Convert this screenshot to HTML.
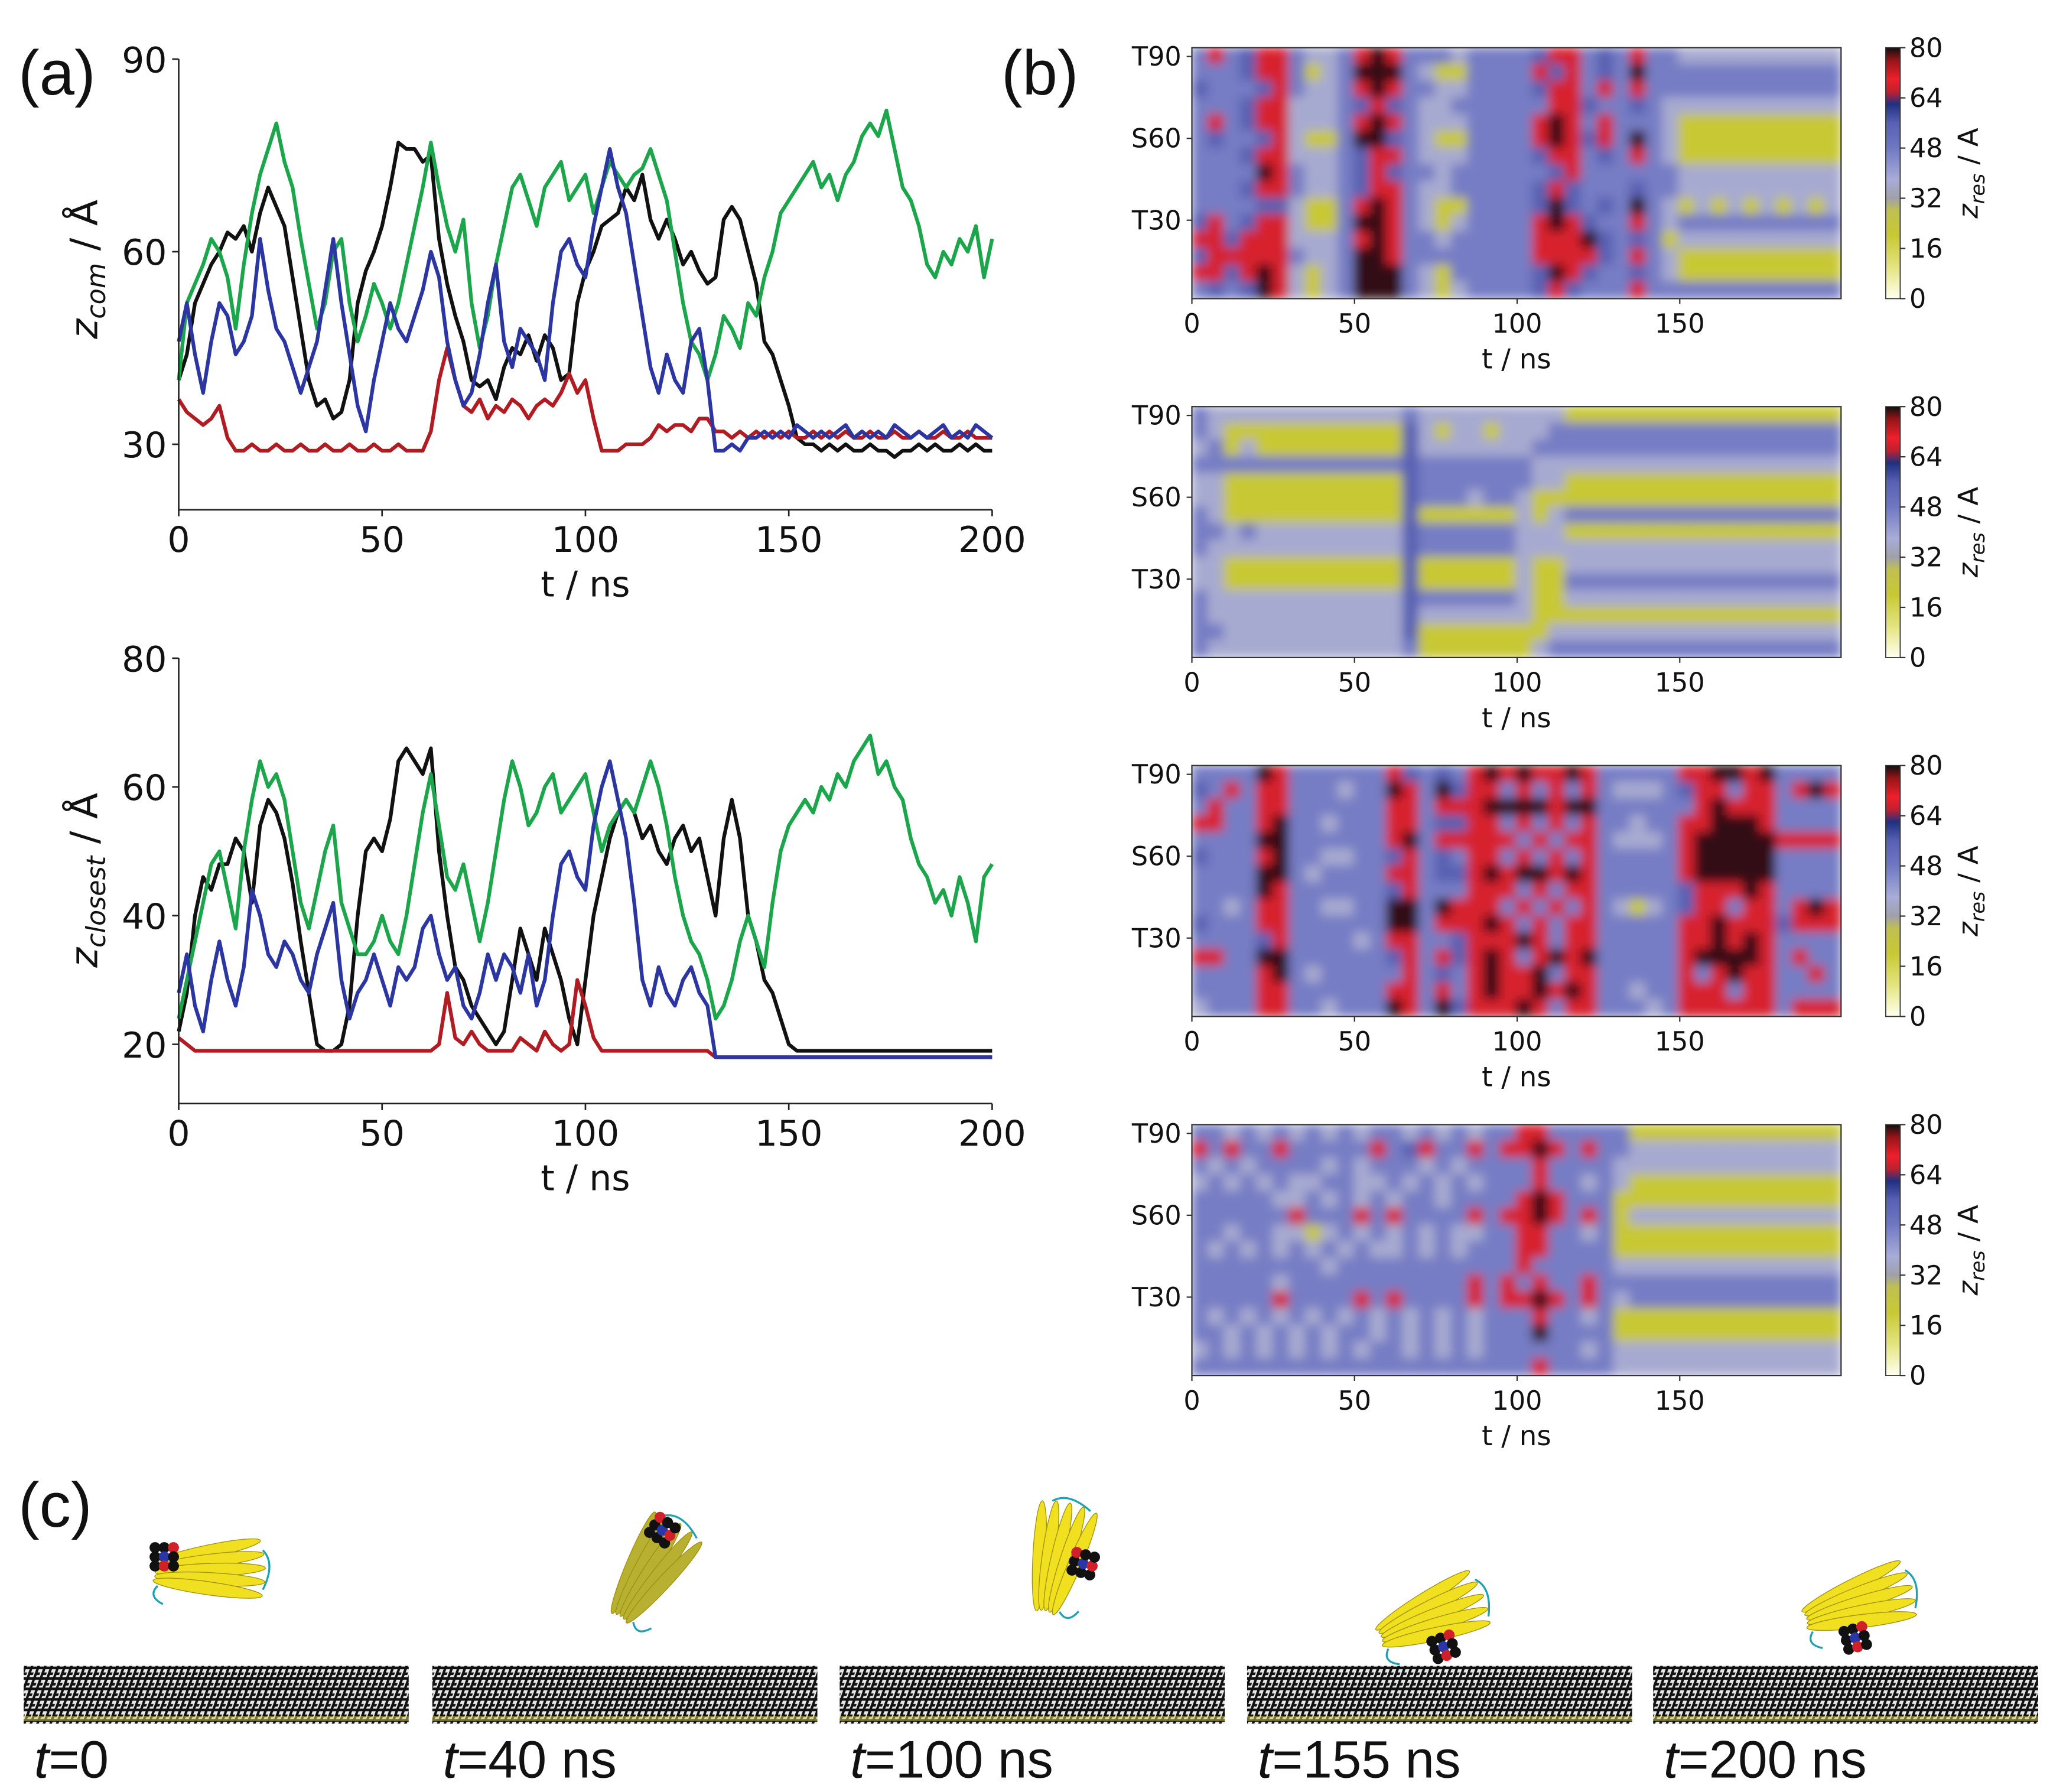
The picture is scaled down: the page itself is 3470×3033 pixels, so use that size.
<!DOCTYPE html>
<html><head><meta charset="utf-8"><title>Protein adsorption trajectories</title>
<style>
html,body{margin:0;padding:0;background:#fff;}
svg{display:block;}
.tk{font-family:"DejaVu Sans","Liberation Sans",sans-serif;fill:#111;}
.pl{font-family:"Liberation Sans","DejaVu Sans",sans-serif;fill:#111;}
</style></head>
<body>
<svg id="fig" xmlns="http://www.w3.org/2000/svg" width="3470" height="3033" viewBox="0 0 1560 1364" preserveAspectRatio="none">
<defs>
<filter id="blur" filterUnits="userSpaceOnUse" x="880" y="0" width="560" height="1100"><feGaussianBlur stdDeviation="4"/></filter>
<pattern id="slabpat" width="5" height="8" patternUnits="userSpaceOnUse" patternTransform="skewX(-20)">
<rect width="5" height="8" fill="#e8e8e8"/>
<path d="M1 0 L1 8 M0 2 L4 2 M2 5.5 L5 5.5" stroke="#111" stroke-width="2"/>
</pattern>
</defs>
<g id="root"></g>
</svg>
<script>
// ---------------- Data: panel (a) top, z_com (Å), 2 ns steps ----------------
const tStep = 2;
const comBlack = [40,44,52,55,58,60,63,62,64,60,66,70,67,64,56,48,40,36,37,34,35,40,52,57,60,64,70,77,76,76,74,75,62,55,50,46,40,39,40,37,42,45,44,47,43,47,45,40,41,52,57,60,64,65,66,70,68,72,65,62,65,62,58,60,57,55,56,65,67,65,60,55,46,44,40,36,31,30,30,29,30,29,30,29,29,30,29,29,28,29,29,30,29,30,29,29,30,29,30,29,29];
const comGreen = [40,52,55,58,62,60,56,48,58,66,72,76,80,74,70,62,55,48,52,60,62,52,46,50,55,52,48,52,58,64,70,77,70,64,60,65,52,45,50,58,64,70,72,68,64,70,72,74,68,70,72,66,70,74,72,70,72,73,76,72,68,60,52,46,44,40,44,50,48,45,52,50,56,60,66,68,70,72,74,70,72,68,72,74,78,80,78,82,76,70,68,64,58,56,60,58,62,60,64,56,62];
const comBlue = [46,52,44,38,46,52,50,44,46,50,62,54,48,46,42,38,42,46,54,62,52,44,36,32,40,46,52,48,46,50,54,60,56,46,40,36,38,44,52,58,46,42,48,46,44,40,52,60,62,58,56,64,70,76,70,66,58,50,42,38,44,40,38,46,48,40,29,29,30,29,31,31,32,31,32,31,33,32,31,32,31,32,33,31,32,31,32,31,33,32,31,32,31,32,33,31,32,31,33,32,31];
const comRed = [37,35,34,33,34,36,31,29,29,30,29,29,30,29,29,30,29,29,30,29,29,30,29,29,30,29,29,30,29,29,29,32,40,45,40,36,35,37,34,36,35,37,36,34,36,37,36,38,41,38,40,34,29,29,29,30,30,30,31,33,32,33,33,32,34,34,32,32,31,32,31,32,31,32,31,32,31,31,32,31,32,31,32,31,31,32,31,31,32,31,31,32,31,31,32,31,31,32,31,31,31];
// ---------------- Data: panel (a) bottom, z_closest (Å) ----------------
const clsBlack = [22,28,40,46,44,48,48,52,50,42,54,58,56,52,45,36,28,20,19,19,20,26,40,50,52,50,55,64,66,64,62,66,50,40,32,30,26,24,22,20,22,30,38,34,30,38,34,30,24,20,30,40,46,52,56,58,56,52,54,50,48,52,54,50,52,46,40,52,58,52,40,36,30,28,24,20,19,19,19,19,19,19,19,19,19,19,19,19,19,19,19,19,19,19,19,19,19,19,19,19,19];
const clsGreen = [24,30,36,42,48,50,44,38,50,58,64,60,62,58,50,42,38,44,50,54,42,38,34,34,36,40,36,34,40,48,56,62,54,46,44,48,42,36,42,50,58,64,60,54,56,60,62,56,58,60,62,56,50,54,56,58,56,60,64,60,54,46,40,36,34,30,24,26,30,36,40,36,32,42,50,54,56,58,56,60,58,62,60,64,66,68,62,64,60,58,52,48,46,42,44,40,46,42,36,46,48];
const clsBlue = [28,34,26,22,30,36,30,26,32,44,40,34,32,36,34,30,28,34,38,42,30,24,28,30,34,30,26,32,30,32,38,40,34,30,32,26,24,28,34,30,34,32,28,34,26,30,40,48,50,46,44,54,60,64,58,52,42,30,26,32,28,26,30,32,28,26,18,18,18,18,18,18,18,18,18,18,18,18,18,18,18,18,18,18,18,18,18,18,18,18,18,18,18,18,18,18,18,18,18,18,18];
const clsRed = [21,20,19,19,19,19,19,19,19,19,19,19,19,19,19,19,19,19,19,19,19,19,19,19,19,19,19,19,19,19,19,19,20,28,21,20,22,20,19,19,19,19,21,20,19,22,20,19,20,30,26,21,19,19,19,19,19,19,19,19,19,19,19,19,19,19,18,18,18,18,18,18,18,18,18,18,18,18,18,18,18,18,18,18,18,18,18,18,18,18,18,18,18,18,18,18,18,18,18,18,18];
const lineTicksX = [0,50,100,150,200];
const topTicksY = [30,60,90];
const botTicksY = [20,40,60,80];

// ---------------- Data: panel (b) heatmaps (level codes; rows top=res 93 -> bottom=res 0, cols 5 ns) ----------------
const levelValues = [20,37,47,56,68,79];
const heat1 = [
"24 2 3 44 2 11 2 454 2 2 21 2222 344 2 3 2 4 22 1111111111",
"22 2 3 44 2 01 2 555 2 1 00 2222 434 2 3 2 5 22 2222222222",
"32 2 2 34 2 11 2 454 2 2 11 2222 344 2 4 2 4 22 2222222222",
"22 2 3 44 1 11 2 343 2 1 12 2222 244 3 2 2 3 21 1111111111",
"24 2 3 44 1 11 2 454 2 1 11 2222 454 2 4 2 2 21 0000000000",
"23 2 2 34 1 00 2 553 2 1 00 2222 454 3 4 2 5 21 0000000000",
"22 2 3 44 1 11 2 344 2 1 11 2222 344 2 3 2 4 21 0000000000",
"22 2 2 54 2 11 2 343 2 2 12 2222 234 2 2 2 2 22 1111111111",
"22 2 3 44 2 11 2 344 2 1 12 2222 343 2 2 2 3 22 1111111111",
"22 2 2 33 1 00 2 454 2 1 00 2222 353 2 3 2 5 21 0101010101",
"34 2 3 44 1 00 2 554 2 1 01 2222 454 3 2 2 4 21 2222222222",
"44 3 4 44 1 11 2 454 2 2 12 2222 444 5 3 2 3 20 1111111111",
"34 4 4 44 2 11 2 554 2 2 22 2222 444 4 3 2 4 21 0000000000",
"44 3 4 54 1 01 2 555 2 1 02 2222 354 3 2 2 3 21 0000000000",
"23 2 3 54 1 01 2 555 2 1 01 2222 343 2 2 2 4 22 2222222222"];
const heat2 = [
"21 11111111111 2 111111 111 00000000000000000",
"21 00000000000 3 101101 112 22222222222222222",
"12 01000000000 3 111111 122 22222222222222222",
"22 22222222222 3 222222 211 11111111111111111",
"11 00000000000 3 222222 211 00000000000000000",
"11 00000000000 3 222122 100 00000000000000000",
"21 00000000000 3 000000 101 22222222222222222",
"22 12111111111 3 222222 111 00000000000000000",
"21 11111111111 3 222222 111 11111111111111111",
"11 00000000000 3 000000 100 11111111111111111",
"11 00000000000 3 000000 100 22222222222222222",
"21 11111111111 3 222222 100 11111111111111111",
"21 11111111111 3 111111 100 00000000000000000",
"22 11111111111 3 000000 001 11111111111111111",
"21 11111111111 2 000000 012 22222222222222222"];
const heat3 = [
"2222 54 222222 43 2 3 24 5454454 22222 445545 2222",
"3242 44 222122 54 2 5 34 4242424 21112 344244 2454",
"2422 44 222222 44 2 4 44 5555455 22222 245444 2222",
"4422 45 221222 44 2 3 34 4242424 22122 445554 2222",
"2222 55 222222 45 2 4 44 4424244 21112 455555 4444",
"3222 45 221122 34 2 3 24 4242424 22222 455555 2222",
"2222 55 212222 44 2 3 34 5455454 22222 455555 2222",
"2222 54 222222 34 2 2 24 4424244 22222 344454 2222",
"2212 44 221122 55 2 5 44 4242424 21012 344244 2454",
"3222 44 222222 55 2 4 44 5424244 22222 445444 3444",
"2222 34 222212 44 2 2 34 4454244 22222 445454 2222",
"4422 55 222222 34 2 4 34 5424545 22222 455554 2422",
"2222 45 212222 24 2 3 24 5445244 22222 424544 2242",
"2222 44 222222 44 2 4 24 5445454 22122 444244 2222",
"1222 44 221222 54 2 5 34 4454244 22212 444444 2444"];
const heat4 = [
"2212121212122121212 2442 222 2 0000000000000",
"4242242222242342242 4454 242 2 1111111111111",
"2121222212122212122 2242 222 1 1111111111111",
"1212121122112121212 2242 212 1 0000000000000",
"2222211212121221222 2454 222 0 0000000000000",
"2222224222424222242 4454 242 0 1111111111111",
"2212211012121212112 2442 212 0 0000000000000",
"2121212121211212122 2442 222 0 0000000000000",
"2222222212222222222 2422 222 1 1111111111111",
"2222212222222222242 4242 242 2 2222222222222",
"2222242222424222242 4454 242 1 2222222222222",
"2121212121212121212 2242 212 0 0000000000000",
"2212121212212121212 2252 222 0 0000000000000",
"1212121212122121212 2222 212 1 1111111111111",
"2222222222222222222 2242 222 1 1111111111111"];
const heatTicksX = [0,50,100,150];
const resTicks = [30,60,90];
const resLabels = ["T30","S60","T90"];
const cbarTicks = [0,16,32,48,64,80];
const snapLabels = ["0","40 ns","100 ns","155 ns","200 ns"];

// ---------------- rendering ----------------
const NS = "http://www.w3.org/2000/svg";
const root = document.getElementById('root');
function mk(tag, attrs, parent){ const e=document.createElementNS(NS,tag); for(const k in attrs) e.setAttribute(k,attrs[k]); (parent||root).appendChild(e); return e; }
function txt(str, attrs, parent){ const e=mk('text',attrs,parent); e.textContent=str; return e; }

const cstops = [[0,[255,255,240]],[10,[228,228,128]],[20,[200,200,52]],[28,[192,192,80]],[32,[160,160,170]],[38,[168,172,216]],[48,[112,120,194]],[56,[88,96,178]],[62,[32,48,128]],[66,[192,32,48]],[70,[238,32,44]],[76,[150,20,24]],[80,[16,16,16]]];
function cmap(v){
  for(let i=1;i<cstops.length;i++){ if(v<=cstops[i][0]){ const a=cstops[i-1],b=cstops[i]; const f=(v-a[0])/(b[0]-a[0]); const c=a[1].map((x,j)=>Math.round(x+(b[1][j]-x)*f)); return 'rgb('+c.join(',')+')'; } }
  return 'rgb(16,16,16)';
}

function lineChart(cfg){
  const g = mk('g',{});
  
  
  const X = t => cfg.x0 + (t-0)/(200-0)*(cfg.x1-cfg.x0);
  const Y = v => cfg.yb - (v-cfg.vmin)/(cfg.vmax-cfg.vmin)*(cfg.yb-cfg.yt);
  cfg.series.forEach(s=>{
    let d='';
    s.data.forEach((v,i)=>{ d += (i?'L':'M') + X(i*tStep).toFixed(2)+' '+Y(v).toFixed(2)+' '; });
    const p = mk('path',{d:d,fill:'none',stroke:s.color,'stroke-width':2.8,'stroke-linejoin':'round'},g);
    
    
  });
  const ax = mk('path',{d:`M${cfg.x0} ${Y(cfg.vmax)} L${cfg.x0} ${cfg.yb} L${cfg.x1} ${cfg.yb}`,fill:'none',stroke:'#222','stroke-width':1.2},g);
  
  
  lineTicksX.forEach(t=>{
    mk('line',{x1:X(t),x2:X(t),y1:cfg.yb,y2:cfg.yb+5,stroke:'#222','stroke-width':1.2},g);
    const l = txt(String(t),{x:X(t),y:cfg.yb+32,'text-anchor':'middle','font-size':27,class:'tk'},g);
    
    
  });
  cfg.yticks.forEach(v=>{
    mk('line',{x1:cfg.x0-5,x2:cfg.x0,y1:Y(v),y2:Y(v),stroke:'#222','stroke-width':1.2},g);
    const l = txt(String(v),{x:cfg.x0-9,y:Y(v)+10,'text-anchor':'end','font-size':27,class:'tk'},g);
    
    
  });
  const xl = txt('t / ns',{x:(cfg.x0+cfg.x1)/2,y:cfg.yb+66,'text-anchor':'middle','font-size':27,class:'tk'},g);
  
  
  const yl = mk('text',{transform:`translate(${cfg.x0-62},${cfg.ylabY}) rotate(-90)`,'text-anchor':'middle','font-size':29,class:'tk'},g);
  
  
  yl.innerHTML = `<tspan font-style="italic">z</tspan><tspan font-style="italic" font-size="20" dy="6">${cfg.sub}</tspan><tspan dy="-6"> / Å</tspan>`;
}
lineChart({name:'zcom-chart',x0:136,x1:755,yt:45,yb:388,vmin:19.8,vmax:90,yticks:topTicksY,sub:'com',ylabY:205,
  series:[{name:'series-black',color:'#111',data:comBlack},{name:'series-green',color:'#1ca64c',data:comGreen},{name:'series-red',color:'#b01c22',data:comRed},{name:'series-blue',color:'#2b36a2',data:comBlue}]});
lineChart({name:'zclosest-chart',x0:136,x1:755,yt:501,yb:840,vmin:10.8,vmax:80,yticks:botTicksY,sub:'closest',ylabY:670,
  series:[{name:'series-black',color:'#111',data:clsBlack},{name:'series-green',color:'#1ca64c',data:clsGreen},{name:'series-red',color:'#b01c22',data:clsRed},{name:'series-blue',color:'#2b36a2',data:clsBlue}]});

const HX0 = 907, HX1 = 1401, HH = 191;
const tops = [36.3, 309.5, 582.7, 856];
const heats = [heat1,heat2,heat3,heat4];
heats.forEach((grid,pi)=>{
  const top = tops[pi];
  const g = mk('g',{});
  
  
  const cp = mk('clipPath',{id:'hc'+pi},g);
  mk('rect',{x:HX0,y:top,width:HX1-HX0,height:HH},cp);
  const cells = mk('g',{'clip-path':'url(#hc'+pi+')'},g);
  const inner = mk('g',{filter:'url(#blur)'},cells);
  const rows = grid.map(r=>r.replace(/ /g,''));
  const nr = rows.length;
  rows.forEach((row,ri)=>{
    const nc = row.length;
    for(let ci=0;ci<nc;ci++){
      const v = levelValues[+row[ci]];
      const x = HX0 + ci/nc*(HX1-HX0), y = top + ri/nr*HH;
      const r = mk('rect',{x:x-0.5,y:y-0.5,width:(HX1-HX0)/nc+1,height:HH/nr+1,fill:cmap(v)},inner);
      
      
    }
  });
  mk('rect',{x:HX0,y:top,width:HX1-HX0,height:HH,fill:'none',stroke:'#333','stroke-width':1},g);
  const X = t => HX0 + t/200*(HX1-HX0+1);
  heatTicksX.forEach(t=>{
    mk('line',{x1:X(t),x2:X(t),y1:top+HH,y2:top+HH+4,stroke:'#333','stroke-width':1},g);
    const l = txt(String(t),{x:X(t),y:top+HH+26,'text-anchor':'middle','font-size':20,class:'tk'},g);
    
    
  });
  const Yr = r => top + 6.7 + (90-r)*2.077;
  resTicks.forEach((r,i)=>{
    mk('line',{x1:HX0-4,x2:HX0,y1:Yr(r),y2:Yr(r),stroke:'#333','stroke-width':1},g);
    const l = txt(resLabels[i],{x:HX0-8,y:Yr(r)+7,'text-anchor':'end','font-size':20,class:'tk'},g);
    
    
  });
  const xl = txt('t / ns',{x:(HX0+HX1)/2,y:top+HH+53,'text-anchor':'middle','font-size':21,class:'tk'},g);
  
  
  const cbx=1435, cbw=11;
  const lg = mk('linearGradient',{id:'cb'+pi,x1:0,y1:1,x2:0,y2:0},g);
  cstops.forEach(s=>mk('stop',{offset:(s[0]/80).toFixed(3),'stop-color':'rgb('+s[1].join(',')+')'},lg));
  const cb = mk('rect',{x:cbx,y:top,width:cbw,height:HH,fill:'url(#cb'+pi+')',stroke:'#333','stroke-width':0.8},g);
  
  
  cbarTicks.forEach(v=>{
    const y = top + HH - v/80*HH;
    mk('line',{x1:cbx+cbw,x2:cbx+cbw+4,y1:y,y2:y,stroke:'#333','stroke-width':1},g);
    const l = txt(String(v),{x:cbx+cbw+7,y:y+7,'font-size':20,class:'tk'},g);
    
    
  });
  const cl = mk('text',{transform:`translate(1505,${top+HH/2}) rotate(-90)`,'text-anchor':'middle','font-size':21,class:'tk'},g);
  
  
  cl.innerHTML = '<tspan font-style="italic">z</tspan><tspan font-style="italic" font-size="15" dy="5">res</tspan><tspan dy="-5"> / A</tspan>';
});

[['(a)',14,72,'panel-label-a'],['(b)',762,72,'panel-label-b'],['(c)',14,1162,'panel-label-c']].forEach(p=>{
  const l = txt(p[0],{x:p[1],y:p[2],'font-size':48,class:'pl'});
  
  
});

const slabX = [18,329,639,949,1258];
const prot = [[160,1195,0],[495,1195,-55],[805,1185,-75],[1090,1230,-20],[1415,1220,-15]];
const ballPos = [[-35,-10],[30,-10],[0,20],[0,25],[-10,25]];
slabX.forEach((x,i)=>{
  const g = mk('g',{});
  
  
  const s = mk('rect',{x:x,y:1268,width:293,height:44,fill:'url(#slabpat)'},g);
  
  
  mk('rect',{x:x,y:1306,width:293,height:4,fill:'#d8d060',opacity:0.5},g);
  const [px,py,rot] = prot[i];
  const pg = mk('g',{transform:`translate(${px},${py}) rotate(${rot})`},g);
  
  
  for(let k=0;k<5;k++){
    mk('ellipse',{cx:0,cy:-14+k*7,rx:42,ry:5,fill:i==1?'#b8b030':'#f0e020',stroke:'#a09010','stroke-width':0.6,transform:`rotate(${-12+k*5})`},pg);
  }
  mk('path',{d:'M40 -15 q10 10 0 30 M-40 12 q-8 8 4 14',fill:'none',stroke:'#20a0b0','stroke-width':1.5},pg);
  const [bx,by] = ballPos[i];
  const bg = mk('g',{transform:`translate(${bx},${by})`},pg);
  
  
  const cols = ['#111','#111','#d0202a','#111','#2a36a8','#111','#111','#d0202a','#111'];
  for(let k=0;k<9;k++){
    mk('circle',{cx:(k%3-1)*7,cy:(Math.floor(k/3)-1)*7,r:4.2,fill:cols[k]},bg);
  }
  const l = mk('text',{x:x+8,y:1353,'font-size':40,class:'pl'},g);
  
  
  l.innerHTML = '<tspan font-style="italic">t</tspan>=' + snapLabels[i];
});
</script>
</body></html>
